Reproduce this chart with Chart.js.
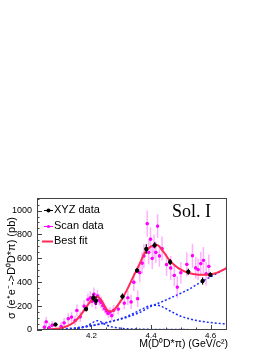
<!DOCTYPE html>
<html>
<head>
<meta charset="utf-8">
<script src="https://cdn.jsdelivr.net/npm/chart.js@4.4.1/dist/chart.umd.min.js"></script>
<style>
  html, body { margin: 0; padding: 0; background: #fff; }
  #wrap { width: 273px; height: 353px; }
</style>
</head>
<body>
<div id="wrap"><canvas id="sigmaChart" width="273" height="353"></canvas></div>
<script>
// XYZ data (black)
var xyzX = [4.079, 4.182, 4.206, 4.215, 4.304, 4.353, 4.384, 4.412, 4.464, 4.525, 4.573, 4.599];
var xyzY = [45, 175, 270, 245, 281, 499, 678, 709, 569, 488, 410, 463];
var xyzErr = [12, 20, 30, 35, 25, 20, 40, 25, 25, 25, 30, 20];

// Scan data (magenta)
var scanX = [4.042, 4.048, 4.058, 4.068, 4.098, 4.108, 4.122, 4.133, 4.145, 4.151, 4.162, 4.175,
    4.188, 4.196, 4.202, 4.208, 4.214, 4.220, 4.226, 4.232, 4.238, 4.244, 4.250, 4.256, 4.262,
    4.268, 4.274, 4.290, 4.310, 4.322, 4.333, 4.342, 4.355, 4.362, 4.370, 4.376, 4.387, 4.392,
    4.398, 4.404, 4.410, 4.416, 4.422, 4.428, 4.437, 4.452, 4.466, 4.478, 4.488, 4.500, 4.520,
    4.539, 4.550, 4.558, 4.567, 4.576, 4.585, 4.594];
var scanY = [24, 69, 20, 40, 30, 60, 95, 108, 80, 164, 110, 200,
    255, 270, 240, 300, 225, 285, 250, 230, 205, 180, 160, 140, 150,
    120, 165, 175, 225, 270, 235, 400, 262, 480, 560, 620, 890, 650,
    760, 600, 700, 650, 870, 620, 682, 548, 520, 458, 359, 480, 550,
    622, 520, 506, 556, 584, 470, 533];
var scanErr = [40, 40, 40, 35, 40, 40, 45, 45, 40, 50, 45, 50,
    50, 55, 50, 55, 50, 50, 45, 50, 45, 40, 40, 40, 40,
    40, 45, 45, 50, 60, 60, 75, 70, 80, 90, 100, 110, 100,
    100, 90, 100, 90, 100, 90, 100, 95, 100, 90, 90, 90, 100,
    100, 90, 90, 100, 110, 100, 100];

// fit curve and components
var curveX = [4.02, 4.05, 4.08, 4.10, 4.12, 4.14, 4.16, 4.18, 4.20, 4.21, 4.22, 4.23, 4.24,
    4.25, 4.26, 4.27, 4.28, 4.30, 4.32, 4.34, 4.36, 4.38, 4.40, 4.42, 4.44, 4.46, 4.48,
    4.50, 4.53, 4.56, 4.59, 4.62, 4.655];
var fitY = [null, 3, 10, 18, 35, 63, 113, 183, 250, 272, 278, 260, 220,
    175, 155, 158, 180, 250, 340, 445, 545, 650, 700, 712, 660, 590, 540,
    505, 475, 463, 463, 478, 520];
var bwHighY = [0, 2, 5, 8, 12, 17, 23, 30, 37, 41, 45, 50, 55,
    60, 66, 73, 80, 96, 115, 138, 163, 188, 205, 208, 192, 165, 138,
    115, 92, 76, 65, 57, 50];
var riseY = [0, 0, 0, 2, 5, 10, 17, 25, 35, 40, 46, 52, 58,
    64, 70, 76, 82, 92, 107, 125, 145, 170, 198, 220, 240, 262, 285,
    308, 345, 390, 432, 472, 520];
var bwLowY = [0, 0, 1, 2, 4, 8, 15, 30, 55, 70, 78, 70, 55,
    42, 32, 25, 20, 14, 10, 8, 7, 6, 5, 5, 4, 4, 4,
    4, 3, 3, 3, 3, 3];
var flatY = [1, 1, 1, 1, 1, 1, 1, 1, 1, 1, 1, 1, 1,
    1, 1, 1, 1, 1, 1, 1, 1, 1, 1, 1, 1, 1, 1,
    1, 1, 1, 1, 1, 1];

var xTicks = [4.2, 4.4, 4.6];
var yTicks = [0, 200, 400, 600, 800, 1000];

var pts = function (xs, ys) {
    return xs.map(function (x, i) { return { x: x, y: ys[i] } })
}

var blueLine = function (ys) {
    return {
        data: pts(curveX, ys),
        showLine: true,
        borderColor: '#1a2cff',
        borderWidth: 1.5,
        borderDash: [2, 2],
        pointRadius: 0,
        cubicInterpolationMode: 'monotone',
        order: 5
    }
}

// error bars + inward ticks + frame + texts
var rootStyle = {
    id: 'rootStyle',
    afterDatasetDraw: function (chart, args) {
        var ds = chart.data.datasets[args.index]
        if (!ds.errs) return
        var ctx = chart.ctx, xs = chart.scales.x, ys = chart.scales.y, a = chart.chartArea
        ctx.save()
        ctx.beginPath()
        ctx.rect(a.left, a.top, a.right - a.left, a.bottom - a.top)
        ctx.clip()
        ctx.strokeStyle = ds.errColor
        ctx.lineWidth = ds.errWidth
        ds.data.forEach(function (p, i) {
            var px = xs.getPixelForValue(p.x)
            ctx.beginPath()
            ctx.moveTo(px, ys.getPixelForValue(p.y - ds.errs[i]))
            ctx.lineTo(px, ys.getPixelForValue(p.y + ds.errs[i]))
            ctx.stroke()
        })
        ctx.restore()
        // redraw points on top of bars
        args.meta.controller.draw()
    },
    afterDraw: function (chart) {
        var ctx = chart.ctx, xs = chart.scales.x, ys = chart.scales.y, a = chart.chartArea
        ctx.save()
        ctx.strokeStyle = '#444'
        ctx.lineWidth = 1
        ctx.strokeRect(a.left + 0.5, a.top + 0.5, a.right - a.left - 1, a.bottom - a.top - 1)
        ctx.beginPath()
        for (var v = 0; v <= 1100; v += 50) {
            var py = Math.round(ys.getPixelForValue(v)) + 0.5
            var len = (v % 200 === 0) ? 5 : 2.5
            ctx.moveTo(a.left, py)
            ctx.lineTo(a.left + len, py)
        }
        for (var k = 1; k <= 12; k++) {
            var xv = 4.0 + k * 0.05
            var px = Math.round(xs.getPixelForValue(xv)) + 0.5
            if (px < a.left || px > a.right) continue
            var l2 = (k % 4 === 0) ? 5 : 2.5
            ctx.moveTo(px, a.bottom)
            ctx.lineTo(px, a.bottom - l2)
        }
        ctx.stroke()

        // legend
        ctx.font = '11px "Liberation Sans", Arial, sans-serif'
        ctx.textBaseline = 'middle'
        ctx.textAlign = 'left'
        ctx.fillStyle = '#000'
        ctx.fillText('XYZ data', 54, 210)
        ctx.fillText('Scan data', 54, 226)
        ctx.fillText('Best fit', 54, 241)
        ctx.lineWidth = 1
        ctx.strokeStyle = '#000'
        ctx.beginPath(); ctx.moveTo(44, 210.5); ctx.lineTo(53, 210.5); ctx.stroke()
        ctx.beginPath(); ctx.arc(48.5, 210.5, 2, 0, Math.PI * 2); ctx.fill()
        ctx.strokeStyle = '#ff00ff'
        ctx.fillStyle = '#ff00ff'
        ctx.beginPath(); ctx.moveTo(44, 226.5); ctx.lineTo(53, 226.5); ctx.stroke()
        ctx.beginPath(); ctx.arc(48.5, 226.5, 1.6, 0, Math.PI * 2); ctx.fill()
        ctx.strokeStyle = '#ff2a55'
        ctx.lineWidth = 2
        ctx.beginPath(); ctx.moveTo(42, 241.5); ctx.lineTo(53, 241.5); ctx.stroke()

        ctx.fillStyle = '#000'
        ctx.font = '18px "Liberation Serif", "Times New Roman", serif'
        ctx.fillText('Sol. I', 172, 212)

        // axis titles
        ctx.font = '10.5px "Liberation Sans", Arial, sans-serif'
        ctx.textAlign = 'right'
        ctx.fillText('M(D\u2070D*\u03c0) (GeV/c\u00b2)', 228, 344)
        ctx.translate(12, 268)
        ctx.rotate(-Math.PI / 2)
        ctx.textAlign = 'center'
        ctx.font = '11px "Liberation Sans", Arial, sans-serif'
        ctx.fillText('\u03c3 (e\u207ae\u207b->D\u2070D*\u03c0) (pb)', 0, 0)
        ctx.restore()
    }
}

var drawChart = function (canvasId) {
    var ctx = document.getElementById(canvasId)
    new Chart(ctx, {
        type: 'scatter',
        data: {
            datasets: [
                blueLine(flatY),
                blueLine(bwLowY),
                blueLine(riseY),
                blueLine(bwHighY),
                {
                    label: 'Scan data',
                    data: pts(scanX, scanY),
                    errs: scanErr,
                    errColor: 'rgba(255, 80, 255, 0.45)',
                    errWidth: 1.5,
                    pointRadius: 1.6,
                    pointBackgroundColor: '#ff00ff',
                    pointBorderWidth: 0,
                    order: 4
                },
                {
                    label: 'Best fit',
                    data: pts(curveX, fitY),
                    showLine: true,
                    borderColor: '#ff2a55',
                    borderWidth: 2,
                    pointRadius: 0,
                    cubicInterpolationMode: 'monotone',
                    order: 2
                },
                {
                    label: 'XYZ data',
                    data: pts(xyzX, xyzY),
                    errs: xyzErr,
                    errColor: '#000',
                    errWidth: 1.2,
                    pointRadius: 2,
                    pointBackgroundColor: '#000',
                    pointBorderWidth: 0,
                    order: 1
                }
            ]
        },
        options: {
            responsive: false,
            animation: false,
            layout: { padding: { left: 0, top: 198, right: 46, bottom: 0 } },
            plugins: { legend: { display: false }, tooltip: { enabled: false } },
            scales: {
                x: {
                    type: 'linear',
                    min: 4.017,
                    max: 4.655,
                    afterFit: function (s) { s.height = 23 },
                    afterBuildTicks: function (s) { s.ticks = xTicks.map(function (v) { return { value: v } }) },
                    grid: { display: false, drawTicks: false },
                    border: { display: false },
                    ticks: {
                        padding: 1,
                        maxRotation: 0,
                        color: '#000',
                        font: { family: '"Liberation Sans", Arial, sans-serif', size: 8 },
                        callback: function (v) { return v.toFixed(1) }
                    }
                },
                y: {
                    min: 0,
                    max: 1105,
                    afterFit: function (s) { s.width = 37 },
                    afterBuildTicks: function (s) { s.ticks = yTicks.map(function (v) { return { value: v } }) },
                    grid: { display: false, drawTicks: false },
                    border: { display: false },
                    ticks: {
                        padding: 5,
                        color: '#000',
                        font: { family: '"Liberation Sans", Arial, sans-serif', size: 9 },
                        callback: function (v) { return String(v) }
                    }
                }
            }
        },
        plugins: [rootStyle]
    })
}

drawChart('sigmaChart')
</script>
</body>
</html>
